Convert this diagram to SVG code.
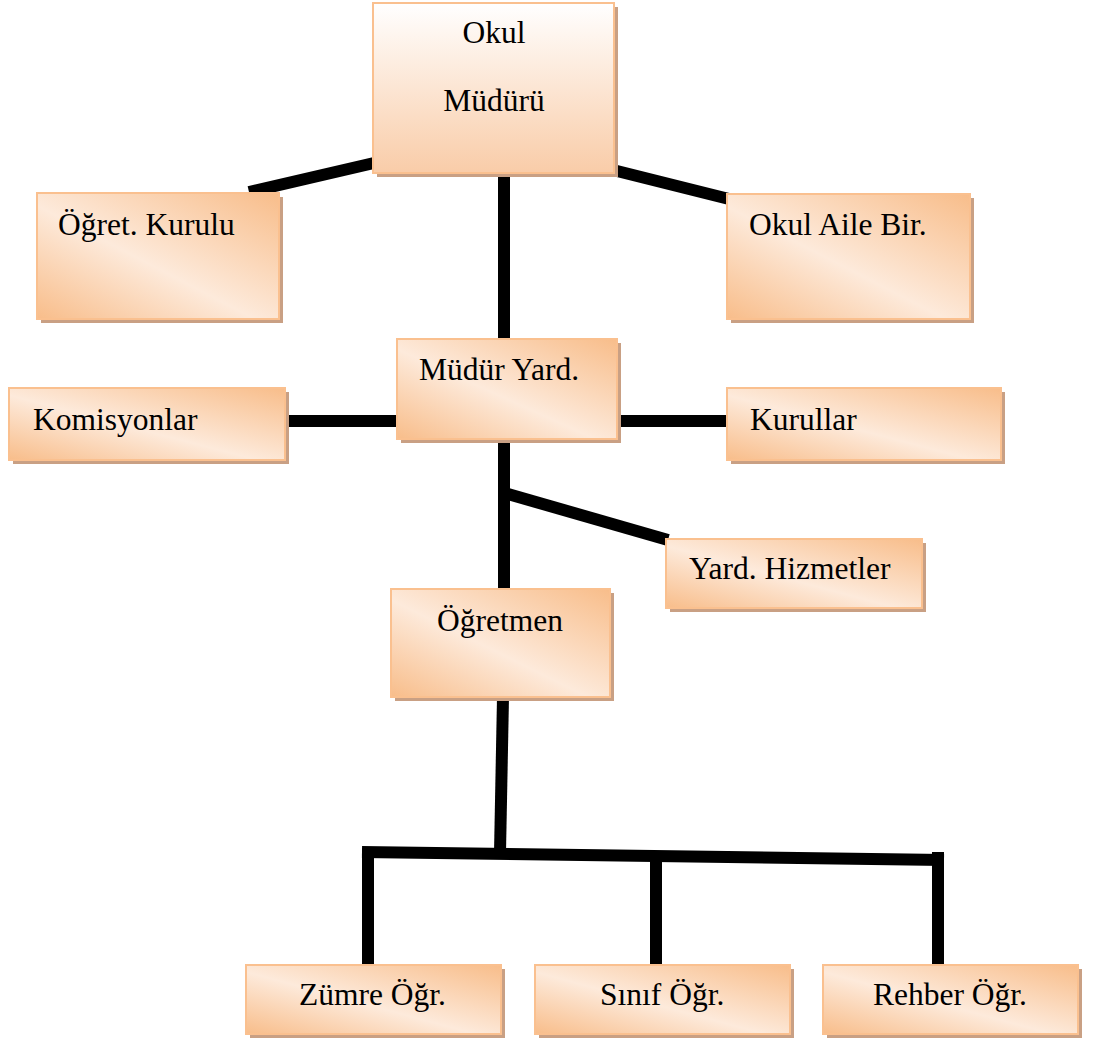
<svg xmlns="http://www.w3.org/2000/svg" width="1094" height="1041" viewBox="0 0 1094 1041">
<defs>
<linearGradient id="gd" x1="1" y1="0" x2="0" y2="1">
<stop offset="0" stop-color="#f8bd8a"/>
<stop offset="0.55" stop-color="#fdeadb"/>
<stop offset="1" stop-color="#f8bd8a"/>
</linearGradient>
<linearGradient id="gv" x1="0" y1="0" x2="0" y2="1">
<stop offset="0" stop-color="#ffffff"/>
<stop offset="1" stop-color="#f9cca8"/>
</linearGradient>
<style>
.sh{fill:#c9a084;}
.bx{fill:url(#gd);stroke:#fac08f;stroke-width:2;}
.bv{fill:url(#gv);stroke:#fac08f;stroke-width:2;}
text{font-family:"Liberation Serif","Times New Roman",serif;font-size:31.5px;fill:#000;}
.c{stroke:#000;stroke-width:12;fill:none;stroke-linecap:butt;}
</style>
</defs>
<g id="connectors">
<line class="c" x1="249" y1="192" x2="374" y2="163"/>
<line class="c" x1="613" y1="170" x2="737" y2="201"/>
<line class="c" x1="504" y1="173" x2="504" y2="340"/>
<line class="c" x1="285" y1="421" x2="398" y2="421"/>
<line class="c" x1="617" y1="421" x2="731" y2="421"/>
<line class="c" x1="504" y1="439" x2="504" y2="589"/>
<line class="c" x1="508" y1="494" x2="668" y2="540"/>
<line class="c" x1="503" y1="697" x2="500" y2="853"/>
<line class="c" x1="362" y1="852" x2="944" y2="860"/>
<line class="c" x1="368" y1="848" x2="368" y2="966"/>
<line class="c" x1="656" y1="855" x2="656" y2="966"/>
<line class="c" x1="938" y1="852" x2="938" y2="966"/>
</g>
<g id="n-okul-muduru">
<rect class="sh" x="377" y="7" width="241" height="170"/>
<rect class="bv" x="373" y="3" width="241" height="170"/>
<text x="494" y="43" text-anchor="middle">Okul</text>
<text x="494" y="111" text-anchor="middle">Müdürü</text>
</g>
<g id="n-ogret-kurulu">
<rect class="sh" x="41" y="197" width="242" height="126"/>
<rect class="bx" x="37" y="193" width="242" height="126"/>
<text x="58" y="235">Öğret. Kurulu</text>
</g>
<g id="n-okul-aile">
<rect class="sh" x="731" y="198" width="243" height="125"/>
<rect class="bx" x="727" y="194" width="243" height="125"/>
<text x="749" y="235">Okul Aile Bir.</text>
</g>
<g id="n-mudur-yard">
<rect class="sh" x="401" y="343" width="220" height="100"/>
<rect class="bx" x="397" y="339" width="220" height="100"/>
<text x="419" y="380">Müdür Yard.</text>
</g>
<g id="n-komisyonlar">
<rect class="sh" x="13" y="392" width="276" height="72"/>
<rect class="bx" x="9" y="388" width="276" height="72"/>
<text x="33" y="430">Komisyonlar</text>
</g>
<g id="n-kurullar">
<rect class="sh" x="731" y="392" width="274" height="72"/>
<rect class="bx" x="727" y="388" width="274" height="72"/>
<text x="750" y="430">Kurullar</text>
</g>
<g id="n-yard-hizmetler">
<rect class="sh" x="670" y="543" width="256" height="69"/>
<rect class="bx" x="666" y="539" width="256" height="69"/>
<text x="689" y="579">Yard. Hizmetler</text>
</g>
<g id="n-ogretmen">
<rect class="sh" x="395" y="593" width="219" height="108"/>
<rect class="bx" x="391" y="589" width="219" height="108"/>
<text x="437" y="631">Öğretmen</text>
</g>
<g id="n-zumre">
<rect class="sh" x="250" y="969" width="255" height="69"/>
<rect class="bx" x="246" y="965" width="255" height="69"/>
<text x="299" y="1005">Zümre Öğr.</text>
</g>
<g id="n-sinif">
<rect class="sh" x="539" y="969" width="255" height="69"/>
<rect class="bx" x="535" y="965" width="255" height="69"/>
<text x="600" y="1005">Sınıf Öğr.</text>
</g>
<g id="n-rehber">
<rect class="sh" x="827" y="969" width="255" height="69"/>
<rect class="bx" x="823" y="965" width="255" height="69"/>
<text x="873" y="1005">Rehber Öğr.</text>
</g>
</svg>
